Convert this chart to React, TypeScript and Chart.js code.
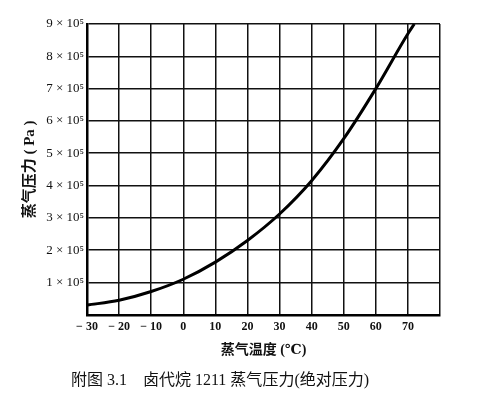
import React, { useEffect, useRef } from "react";
import { Chart, registerables } from "chart.js";

Chart.register(...registerables);

// Temperature (°C) and vapour pressure (×10^5 Pa)
const temperatures = [-30, -20, -10, 0, 10, 20, 30, 40, 50, 60, 70, 72];
const pressures = [0.3, 0.45, 0.72, 1.1, 1.63, 2.3, 3.12, 4.15, 5.45, 7.0, 8.7, 9.0];

const xTickLabels: Record<number, string> = {
  [-30]: "− 30",
  [-20]: "− 20",
  [-10]: "− 10",
  0: "0",
  10: "10",
  20: "20",
  30: "30",
  40: "40",
  50: "50",
  60: "60",
  70: "70",
};
const yTickLabels: Record<number, string> = {
  1: "1 × 10⁵",
  2: "2 × 10⁵",
  3: "3 × 10⁵",
  4: "4 × 10⁵",
  5: "5 × 10⁵",
  6: "6 × 10⁵",
  7: "7 × 10⁵",
  8: "8 × 10⁵",
  9: "9 × 10⁵",
};

const xTitle = "蒸气温度 (℃)";
const yTitle = "蒸气压力 ( Pa )";
const caption = "附图 3.1    卤代烷 1211 蒸气压力(绝对压力)";

const FONT = "'Liberation Serif', 'DejaVu Serif', 'Noto Sans CJK SC', serif";

export default function App() {
  const ref = useRef<HTMLCanvasElement>(null);

  useEffect(() => {
    if (!ref.current) return;
    const chart = new Chart(ref.current, {
      type: "line",
      data: {
        datasets: [
          {
            data: temperatures.map((t, i) => ({ x: t, y: pressures[i] })),
            borderColor: "#000",
            borderWidth: 3,
            pointRadius: 0,
            fill: false,
            cubicInterpolationMode: "monotone",
          },
        ],
      },
      options: {
        responsive: false,
        animation: false,
        layout: { padding: { top: 24, right: 48, left: 0, bottom: 0 } },
        plugins: {
          legend: { display: false },
          tooltip: { enabled: false },
          title: {
            display: true,
            position: "bottom",
            text: caption,
            color: "#111",
            font: { family: FONT, size: 16, weight: "normal" },
            padding: { top: 0, bottom: 6 },
          },
        },
        scales: {
          x: {
            type: "linear",
            min: -30,
            max: 80,
            afterFit: (s: any) => {
              s.height = 56;
            },
            ticks: {
              stepSize: 10,
              color: "#111",
              padding: 5,
              maxRotation: 0,
              autoSkip: false,
              font: { family: FONT, size: 12, weight: "bold" },
              callback: (v: any) => xTickLabels[v as number] ?? "",
            },
            grid: {
              color: "#111",
              lineWidth: 1.5,
              drawTicks: false,
            },
            border: { color: "#000", width: 2.5 },
            title: {
              display: true,
              text: xTitle,
              color: "#111",
              font: { family: FONT, size: 14, weight: "bold" },
              padding: { top: 0, bottom: 12 },
            },
          },
          y: {
            type: "linear",
            min: 0,
            max: 9,
            afterFit: (s: any) => {
              s.width = 87;
            },
            ticks: {
              stepSize: 1,
              color: "#111",
              padding: 3,
              autoSkip: false,
              font: { family: FONT, size: 13 },
              callback: (v: any) => yTickLabels[v as number] ?? "",
            },
            grid: {
              color: "#111",
              lineWidth: 1.5,
              drawTicks: false,
            },
            border: { color: "#000", width: 2.5 },
            title: {
              display: true,
              text: yTitle,
              color: "#111",
              font: { family: FONT, size: 15, weight: "bold" },
              padding: { top: 21, bottom: 0 },
            },
          },
        },
      },
      plugins: [
        {
          id: "bg",
          beforeDraw: (c: any) => {
            const ctx = c.ctx;
            ctx.save();
            ctx.fillStyle = "#fff";
            ctx.fillRect(0, 0, c.width, c.height);
            ctx.restore();
          },
        },
      ],
    });
    return () => chart.destroy();
  }, []);

  return (
    <div style={{ position: "fixed", left: 0, top: 0, width: 488, height: 396, background: "#fff" }}>
      <canvas ref={ref} width={488} height={396} />
    </div>
  );
}
